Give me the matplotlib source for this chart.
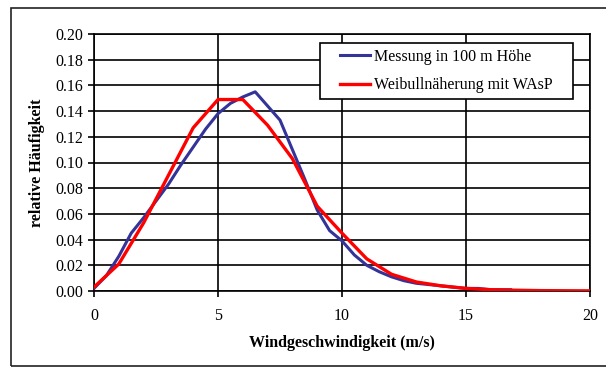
import matplotlib
matplotlib.use("Agg")
import matplotlib.pyplot as plt
from matplotlib.patches import Rectangle

# Data
speed_meas = [0.0, 0.5, 1.0, 1.5, 2.0, 2.5, 3.0, 3.5, 4.0, 4.5, 5.0, 5.5, 6.0, 6.5,
              7.0, 7.5, 8.0, 8.5, 9.0, 9.5, 10.0, 10.5, 11.0, 11.5, 12.0, 12.5,
              13.0, 13.5, 14.0, 14.5, 15.0, 15.5, 16.0, 16.5, 16.8]
freq_meas = [0.002, 0.012, 0.027, 0.045, 0.057, 0.070, 0.083, 0.098, 0.112, 0.126,
             0.138, 0.146, 0.151, 0.155, 0.144, 0.133, 0.110, 0.087, 0.063, 0.047,
             0.039, 0.028, 0.020, 0.015, 0.011, 0.008, 0.006, 0.005, 0.004, 0.003,
             0.002, 0.002, 0.001, 0.001, 0.001]

speed_weib = [0, 1, 2, 3, 4, 5, 6, 7, 8, 9, 10, 11, 12, 13, 14, 15, 16, 17, 18, 19, 20]
freq_weib = [0.003, 0.021, 0.053, 0.090, 0.127, 0.149, 0.149, 0.129, 0.103, 0.066,
             0.045, 0.025, 0.013, 0.007, 0.004, 0.002, 0.001, 0.0006, 0.0003, 0.0002, 0.0001]

label_meas = "Messung in 100 m Höhe"
label_weib = "Weibullnäherung mit WAsP"
xlabel = "Windgeschwindigkeit (m/s)"
ylabel = "relative Häufigkeit"
xticks = [0, 5, 10, 15, 20]
yticks = [0.00, 0.02, 0.04, 0.06, 0.08, 0.10, 0.12, 0.14, 0.16, 0.18, 0.20]

plt.rcParams['font.family'] = ['Liberation Serif', 'DejaVu Serif']

W, H = 606, 367
fig = plt.figure(figsize=(6.06, 3.67), dpi=100)
ax = fig.add_axes([94/W, 1-291/H, (590-94)/W, (291-34)/H])

# outer frame
fig.patches.append(Rectangle((11/W, 1.5/H), 1.2, 1-8/H-1.5/H, transform=fig.transFigure,
                             fill=False, edgecolor='#222222', linewidth=1.2))

ax.plot(speed_meas, freq_meas, color='#333399', lw=2.2, label=label_meas, zorder=3)
ax.plot(speed_weib, freq_weib, color='#ff0000', lw=2.4, label=label_weib, zorder=4)

ax.set_xlim(0, 20)
ax.set_ylim(0, 0.20)
ax.set_xticks(xticks)
ax.set_xticklabels([str(v) for v in xticks], fontsize=11.5)
ax.set_yticks(yticks)
ax.set_yticklabels([f"{v:.2f}" for v in yticks], fontsize=11.5)
ax.grid(True, color='black', lw=1.2)
ax.set_axisbelow(True)
for s in ax.spines.values():
    s.set_color('black')
    s.set_linewidth(1.2)
ax.tick_params(direction='out', length=4, width=1.2, colors='black', pad=4)
ax.tick_params(axis='x', pad=8)

ax.set_xlabel(xlabel, fontsize=11.5, fontweight='bold', labelpad=8)
ax.set_ylabel(ylabel, fontsize=11.5, fontweight='bold', labelpad=7)

# legend box (frame drawn separately)
bx0, by0, bx1, by1 = 320, 43, 573, 99
fig.patches.append(Rectangle((bx0/W, 1-by1/H), (bx1-bx0)/W, (by1-by0)/H,
                             transform=fig.transFigure, facecolor='white',
                             edgecolor='black', linewidth=1.2, zorder=5))
leg = fig.legend(*ax.get_legend_handles_labels(), loc='center',
                 bbox_to_anchor=((bx0+bx1)/2/W, 1-(by0+by1)/2/H),
                 fontsize=11.5, frameon=False, handlelength=1.9, labelspacing=0.8,
                 handletextpad=0.25, borderpad=0, borderaxespad=0)
leg.set_zorder(6)

fig.savefig("out.png", dpi=100)
